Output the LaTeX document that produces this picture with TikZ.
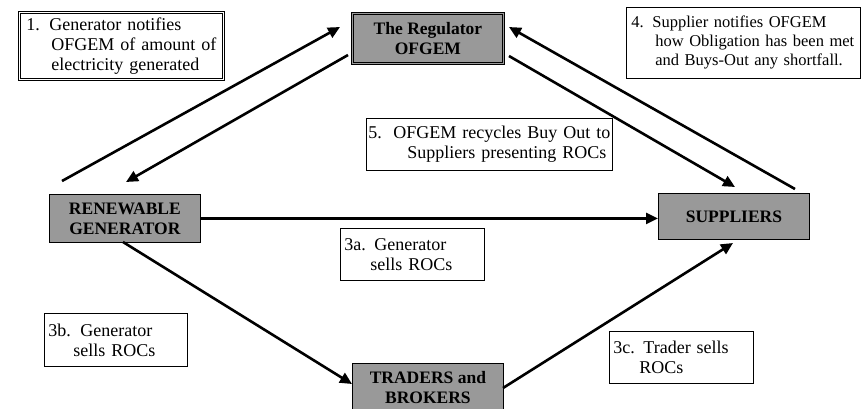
\documentclass[tikz,border=0pt]{standalone}
\usepackage{fontspec}
\setmainfont{Liberation Serif}
\usetikzlibrary{arrows.meta}
\definecolor{boxgray}{RGB}{153,153,153}
\begin{document}
\begin{tikzpicture}[x=1pt,y=-1pt,
  note/.style={draw, line width=0.8pt, anchor=north west, align=left, inner ysep=0pt,
    font=\fontsize{18}{20}\selectfont},
  actor/.style={draw, line width=0.8pt, fill=boxgray, anchor=north west, align=center,
    inner sep=0pt, minimum width=151pt, font=\fontsize{17.5}{20}\selectfont\bfseries},
  flow/.style={line width=2.6pt, -{Triangle[length=12pt,width=11pt]}}]
\useasboundingbox (0,0) rectangle (861,408);

% actors
\node[actor, double=boxgray, double distance=1.6pt, minimum height=50pt] (reg) at (352,13)
  {The Regulator\\OFGEM};
\node[actor, minimum height=48pt] (gen) at (49,194) {RENEWABLE\\GENERATOR};
\node[actor, minimum height=46pt] (sup) at (658,193) {SUPPLIERS};
\node[actor, minimum height=48pt] (trd) at (352,363) {TRADERS and\\BROKERS};

% notes
\node[note, double, double distance=1.6pt, inner xsep=7pt, text width=190pt, minimum height=67pt] (n1) at (19,12)
  {\makebox[23pt][l]{1.}Generator notifies\\\hspace*{25pt}OFGEM of amount of\\\hspace*{25pt}electricity generated};
\node[note, inner xsep=5pt, text width=224pt, minimum height=71pt,
  font=\fontsize{16.5}{19}\selectfont] (n4) at (626,7)
  {\makebox[21pt][l]{4.}Supplier notifies OFGEM\\\hspace*{24pt}how Obligation has been met\\\hspace*{24pt}and Buys-Out any shortfall.};
\node[note, inner xsep=2pt, text width=242pt, minimum height=52pt] (n5) at (366,118)
  {\makebox[25pt][l]{5.}OFGEM recycles Buy Out to\\\hspace*{39pt}Suppliers presenting ROCs};
\node[note, inner xsep=4pt, text width=136pt, minimum height=52pt] (n3a) at (340,228)
  {\makebox[30pt][l]{3a.}Generator\\\hspace*{26pt}sells ROCs};
\node[note, inner xsep=4pt, text width=135pt, minimum height=53pt] (n3b) at (44,313)
  {\makebox[32pt][l]{3b.}Generator\\\hspace*{25pt}sells ROCs};
\node[note, inner xsep=4pt, text width=136pt, minimum height=52pt] (n3c) at (609,331)
  {\makebox[30pt][l]{3c.}Trader sells\\\hspace*{26pt}ROCs};

% connector end points
\coordinate (c1s) at (62,181);  \coordinate (c1e) at (340,27);
\coordinate (c2s) at (348,55);  \coordinate (c2e) at (126,182);
\coordinate (c3s) at (795,189); \coordinate (c3e) at (509,27);
\coordinate (c4s) at (509,56);  \coordinate (c4e) at (735,187);
\coordinate (c6s) at (123,242); \coordinate (c6e) at (352,384);
\coordinate (c7s) at (503,388); \coordinate (c7e) at (733,243);

% connectors
\draw[flow] (c1s) -- (c1e);
\draw[flow] (c2s) -- (c2e);
\draw[flow] (c3s) -- (c3e);
\draw[flow] (c4s) -- (c4e);
\draw[flow] (gen.east) -- (gen.east -| sup.west);
\draw[flow] (c6s) -- (c6e);
\draw[flow] (c7s) -- (c7e);
\end{tikzpicture}
\end{document}
